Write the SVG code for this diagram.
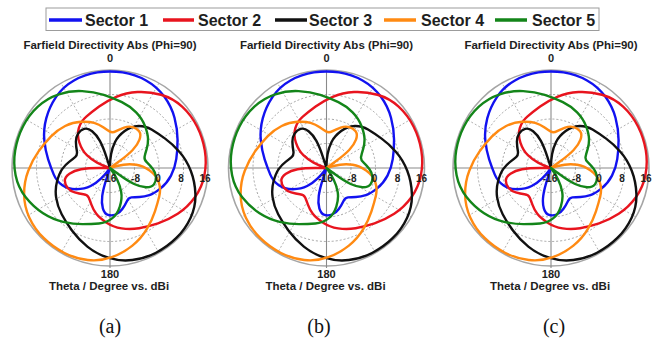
<svg xmlns="http://www.w3.org/2000/svg" xmlns:xlink="http://www.w3.org/1999/xlink" width="662" height="347" viewBox="0 0 662 347">
<style>
.t{font-family:"Liberation Sans",Arial,sans-serif;font-weight:bold;fill:#1e1e1e;text-anchor:middle}
.title{font-size:11.5px}
.lab{font-size:11px}
.tick{font-size:10px}
.leg{font-family:"Liberation Sans",Arial,sans-serif;font-weight:bold;font-size:16px;fill:#1e1e1e}
.cap{font-family:"Liberation Serif","Times New Roman",serif;font-size:20px;fill:#111;text-anchor:middle}
.ring{fill:none;stroke:#9a9a9a;stroke-width:0.9;stroke-dasharray:2 2}
.spoke{stroke:#a8a8a8;stroke-width:0.9;stroke-dasharray:2 2}
.outer{fill:none;stroke:#a5a5a5;stroke-width:1.6}
.axis{stroke:#8a8a8a;stroke-width:1.1}
.curve{fill:none;stroke-width:2.4;stroke-linejoin:round}
.s1{stroke:#1212f0}
.s2{stroke:#e8141e}
.s3{stroke:#111111}
.s4{stroke:#ff8a12}
.s5{stroke:#138519}
.legline{stroke-width:3.5}
</style>
<defs>
<path id="pat" d="M -12.55 -95.6 Q 0 -97.5 12.55 -95.6 Q 25.1 -93.7 36.05 -87.55 Q 47 -81.4 54.25 -71.45 Q 61.5 -61.5 64.5 -50.25 Q 67.5 -39 67.55 -28.55 Q 67.6 -18.1 66.3 -9.05 Q 65 0 61 7.65 Q 57 15.3 50.6 20.4 Q 44.2 25.5 39.35 27.2 Q 34.5 28.9 29.45 29 Q 24.4 29.1 21.45 29.4 Q 18.5 29.7 16.75 33.4 Q 15 37.1 12.3 41.05 Q 9.6 45 5.65 46.5 Q 1.7 48 -1.95 46.85 Q -5.6 45.7 -7.15 40.3 Q -8.7 34.9 -7.75 27.9 Q -6.8 20.9 -3.4 10.45 L 0 0 L -2.4 3.2 Q -4.8 6.4 -9.1 10.65 Q -13.4 14.9 -19.35 18.05 Q -25.3 21.2 -33.6 21.25 Q -41.9 21.3 -47.65 17.3 Q -53.4 13.3 -56.2 6.65 Q -59 0 -61.85 -8.65 Q -64.7 -17.3 -65.7 -27.9 Q -66.7 -38.5 -63.75 -49.65 Q -60.8 -60.8 -53.9 -71.1 Q -47 -81.4 -36.05 -87.55 Q -25.1 -93.7 -12.55 -95.6 Z"/>
<g id="grid">
<circle class="ring" r="24.5"/>
<circle class="ring" r="49"/>
<circle class="ring" r="73.5"/>
<line class="spoke" x1="49" y1="-84.9" x2="-49" y2="84.9"/>
<line class="spoke" x1="84.9" y1="-49" x2="-84.9" y2="49"/>
<line class="spoke" x1="84.9" y1="49" x2="-84.9" y2="-49"/>
<line class="spoke" x1="49" y1="84.9" x2="-49" y2="-84.9"/>
<circle class="outer" r="98"/>
<line class="axis" x1="-98" y1="0" x2="98" y2="0"/>
<line class="axis" x1="0" y1="-98" x2="0" y2="100"/>
</g>
<g id="curves">
<use xlink:href="#pat" class="curve s1"/>
<use xlink:href="#pat" class="curve s2" transform="rotate(72)"/>
<use xlink:href="#pat" class="curve s3" transform="rotate(144)"/>
<use xlink:href="#pat" class="curve s4" transform="rotate(216)"/>
<use xlink:href="#pat" class="curve s5" transform="rotate(288)"/>
</g>
<g id="labels">
<text class="t title" x="0" y="-119">Farfield Directivity Abs (Phi=90)</text>
<text class="t lab" x="0" y="-106">0</text>
<text class="t lab" x="0" y="110">180</text>
<text class="t title" x="-1" y="122">Theta / Degree vs. dBi</text>
<text class="t tick" x="-1" y="14">-16</text>
<text class="t tick" x="25.5" y="14">-8</text>
<text class="t tick" x="48" y="14">0</text>
<text class="t tick" x="71" y="14">8</text>
<text class="t tick" x="95" y="14">16</text>
</g>
</defs>
<rect x="0" y="0" width="662" height="347" fill="#ffffff"/>
<g id="legend">
<rect x="46" y="8" width="553" height="22.5" fill="#ffffff" stroke="#9c9c9c" stroke-width="1"/>
<line class="legline s1" x1="49" y1="20" x2="82" y2="20"/>
<text class="leg" x="85" y="26">Sector 1</text>
<line class="legline s2" x1="163" y1="20" x2="194" y2="20"/>
<text class="leg" x="198" y="26">Sector 2</text>
<line class="legline s3" x1="275" y1="20" x2="307" y2="20"/>
<text class="leg" x="309" y="26">Sector 3</text>
<line class="legline s4" x1="384" y1="20" x2="416" y2="20"/>
<text class="leg" x="421" y="26">Sector 4</text>
<line class="legline s5" x1="495" y1="20" x2="527" y2="20"/>
<text class="leg" x="532" y="26">Sector 5</text>
</g>
<g id="panel-a" transform="translate(110,168)">
<use xlink:href="#grid"/>
<use xlink:href="#curves"/>
<use xlink:href="#labels"/>
</g>
<g id="panel-b" transform="translate(326.5,168)">
<use xlink:href="#grid"/>
<use xlink:href="#curves"/>
<use xlink:href="#labels"/>
</g>
<g id="panel-c" transform="translate(551,168)">
<use xlink:href="#grid"/>
<use xlink:href="#curves"/>
<use xlink:href="#labels"/>
</g>
<g id="captions">
<text class="cap" x="110" y="333">(a)</text>
<text class="cap" x="319" y="333">(b)</text>
<text class="cap" x="554" y="333">(c)</text>
</g>
</svg>
